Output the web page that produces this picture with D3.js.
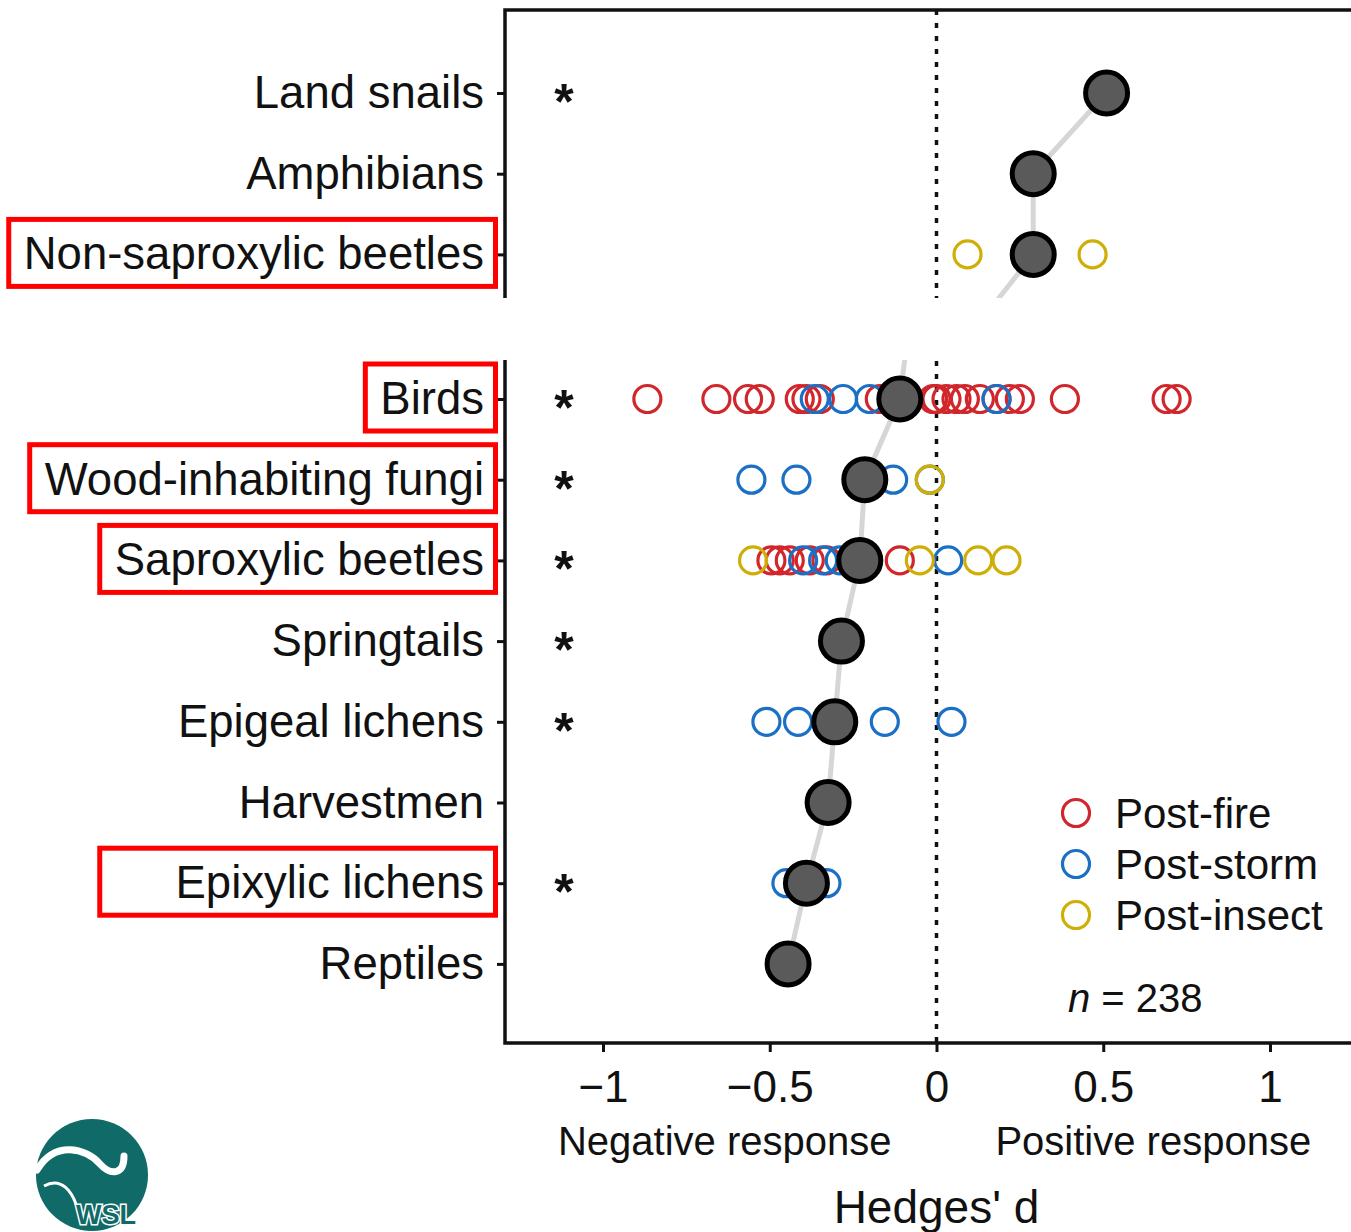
<!DOCTYPE html>
<html>
<head>
<meta charset="utf-8">
<title>Hedges' d by taxon</title>
<script src="https://cdn.jsdelivr.net/npm/d3@7"></script>
<style>
  body { margin: 0; background: #fff; }
  text { font-family: "Liberation Sans", Arial, sans-serif; fill: #111; }
</style>
</head>
<body>
<script>
// taxa, upper and lower part of the (cut) figure
var rowsTop = ["Land snails", "Amphibians", "Non-saproxylic beetles"];
var rowsBottom = ["Birds", "Wood-inhabiting fungi", "Saproxylic beetles", "Springtails",
                  "Epigeal lichens", "Harvestmen", "Epixylic lichens", "Reptiles"];

// mean effect sizes (Hedges' d)
var meansTop = [0.51, 0.29, 0.29];
var meansBottom = [-0.11, -0.215, -0.23, -0.285, -0.305, -0.325, -0.39, -0.445];
// means of the rows that were cut out (only the joining line shows)
var cutMeanTop = 0.1;
var cutMeanBottom = -0.08;

var significant = ["Land snails", "Birds", "Wood-inhabiting fungi", "Saproxylic beetles",
                   "Springtails", "Epigeal lichens", "Epixylic lichens"];
var highlighted = ["Non-saproxylic beetles", "Birds", "Wood-inhabiting fungi",
                   "Saproxylic beetles", "Epixylic lichens"];

// single studies
var postFire = [
  ["Birds", -0.867], ["Birds", -0.66], ["Birds", -0.565], ["Birds", -0.53], ["Birds", -0.41],
  ["Birds", -0.39], ["Birds", -0.35], ["Birds", -0.17], ["Birds", -0.01], ["Birds", 0.0],
  ["Birds", 0.03], ["Birds", 0.06], ["Birds", 0.085], ["Birds", 0.13], ["Birds", 0.18],
  ["Birds", 0.22], ["Birds", 0.25], ["Birds", 0.385], ["Birds", 0.69], ["Birds", 0.72],
  ["Saproxylic beetles", -0.495], ["Saproxylic beetles", -0.47], ["Saproxylic beetles", -0.44],
  ["Saproxylic beetles", -0.38], ["Saproxylic beetles", -0.33], ["Saproxylic beetles", -0.11]
];
var postStorm = [
  ["Birds", -0.365], ["Birds", -0.28], ["Birds", -0.2], ["Birds", 0.18],
  ["Wood-inhabiting fungi", -0.555], ["Wood-inhabiting fungi", -0.42],
  ["Wood-inhabiting fungi", -0.13], ["Wood-inhabiting fungi", -0.02],
  ["Saproxylic beetles", -0.4], ["Saproxylic beetles", -0.34], ["Saproxylic beetles", -0.29],
  ["Saproxylic beetles", 0.035],
  ["Epigeal lichens", -0.51], ["Epigeal lichens", -0.415], ["Epigeal lichens", -0.155],
  ["Epigeal lichens", 0.045],
  ["Epixylic lichens", -0.45], ["Epixylic lichens", -0.33]
];
var postInsect = [
  ["Non-saproxylic beetles", 0.093], ["Non-saproxylic beetles", 0.468],
  ["Wood-inhabiting fungi", -0.02],
  ["Saproxylic beetles", -0.55], ["Saproxylic beetles", -0.05], ["Saproxylic beetles", 0.125],
  ["Saproxylic beetles", 0.21]
];

var legendNames = ["Post-fire", "Post-storm", "Post-insect"];
var colors = ["#d1262b", "#1b6fc4", "#cfae05"];
var xTicks = [-1, -0.5, 0, 0.5, 1];
var nStudies = 238;

var W = 1351, H = 1232;
var left = 505, topY = 10, bottomY = 1043, cutY0 = 298, cutY1 = 360;

var svg = d3.select("body").append("svg").attr("width", W).attr("height", H);

var x = d3.scaleLinear().domain([-1, 1]).range([603, 1270]);
var step = 80.7;
var yTop = d3.scalePoint().domain(rowsTop.concat(["_cut"])).range([93, 93 + 3 * step]);
var yBot = d3.scalePoint().domain(["_cut"].concat(rowsBottom)).range([399 - step, 399 + 7 * step]);
function y(c) { return rowsTop.indexOf(c) >= 0 ? yTop(c) : yBot(c); }

// zero line
svg.append("line")
  .attr("x1", x(0)).attr("x2", x(0)).attr("y1", topY).attr("y2", bottomY)
  .attr("stroke", "#111").attr("stroke-width", 3.5).attr("stroke-dasharray", "5,8");

// grey line joining the means
var line = d3.line().x(function(d) { return x(d[1]); }).y(function(d) { return d[0]; });
var topPts = rowsTop.map(function(c, i) { return [yTop(c), meansTop[i]]; });
topPts.push([yTop("_cut"), cutMeanTop]);
var botPts = [[yBot("_cut"), cutMeanBottom]].concat(rowsBottom.map(function(c, i) { return [yBot(c), meansBottom[i]]; }));
[topPts, botPts].forEach(function(p) {
  svg.append("path").attr("d", line(p)).attr("fill", "none")
    .attr("stroke", "#d6d6d6").attr("stroke-width", 5);
});

// single studies
[postFire, postStorm, postInsect].forEach(function(set, k) {
  svg.append("g").selectAll("circle").data(set).enter().append("circle")
    .attr("cx", function(d) { return x(d[1]); })
    .attr("cy", function(d) { return y(d[0]); })
    .attr("r", 13.5)
    .attr("fill", "none")
    .attr("stroke", colors[k])
    .attr("stroke-width", 3.2);
});

// means
var means = rowsTop.map(function(c, i) { return [c, meansTop[i]]; })
  .concat(rowsBottom.map(function(c, i) { return [c, meansBottom[i]]; }));
svg.append("g").selectAll("circle").data(means).enter().append("circle")
  .attr("cx", function(d) { return x(d[1]); })
  .attr("cy", function(d) { return y(d[0]); })
  .attr("r", 21)
  .attr("fill", "#5a5a5a")
  .attr("stroke", "#000")
  .attr("stroke-width", 5);

// the break between the two parts
svg.append("rect").attr("x", 0).attr("y", cutY0).attr("width", W).attr("height", cutY1 - cutY0)
  .attr("fill", "#fff");

// frame
var frame = svg.append("g").attr("stroke", "#111").attr("stroke-width", 3.5).attr("fill", "none");
frame.append("path").attr("d", "M" + W + "," + topY + "H" + left + "V" + cutY0);
frame.append("path").attr("d", "M" + left + "," + cutY1 + "V" + bottomY + "H" + W);

// y axes
function styleY(g) {
  g.select(".domain").remove();
  g.selectAll(".tick line").attr("stroke", "#111").attr("stroke-width", 3);
  g.selectAll(".tick text").attr("font-size", 45.5).attr("fill", "#111")
    .attr("font-family", "Liberation Sans, Arial, sans-serif");
}
svg.append("g").attr("transform", "translate(" + left + ",0)")
  .call(d3.axisLeft(yTop).tickValues(rowsTop).tickSize(8).tickPadding(13)).call(styleY);
svg.append("g").attr("transform", "translate(" + left + ",0)")
  .call(d3.axisLeft(yBot).tickValues(rowsBottom).tickSize(8).tickPadding(13)).call(styleY);

// x axis
var xa = svg.append("g").attr("transform", "translate(0," + bottomY + ")")
  .call(d3.axisBottom(x).tickValues(xTicks).tickSize(9).tickPadding(19).tickFormat(d3.format("~g")));
xa.select(".domain").remove();
xa.selectAll(".tick line").attr("stroke", "#111").attr("stroke-width", 3);
xa.selectAll(".tick text").attr("font-size", 44).attr("fill", "#111")
  .attr("font-family", "Liberation Sans, Arial, sans-serif");

svg.append("text").attr("x", x(-0.635)).attr("y", 1155).attr("text-anchor", "middle")
  .attr("font-size", 40).text("Negative response");
svg.append("text").attr("x", x(0.65)).attr("y", 1155).attr("text-anchor", "middle")
  .attr("font-size", 40).text("Positive response");
svg.append("text").attr("x", x(0)).attr("y", 1223).attr("text-anchor", "middle")
  .attr("font-size", 46).text("Hedges' d");

// significance stars
svg.append("g").selectAll("text").data(significant).enter().append("text")
  .attr("x", 564).attr("y", function(d) { return y(d) + 26; })
  .attr("text-anchor", "middle").attr("font-size", 50).attr("font-weight", "bold")
  .text("*");

// red highlight boxes round some labels
var boxLeft = {};
svg.selectAll(".tick text").each(function(d) {
  if (highlighted.indexOf(d) >= 0) boxLeft[d] = this.getBBox().x + left - 15;
});
boxLeft["Epixylic lichens"] = boxLeft["Saproxylic beetles"];
svg.append("g").selectAll("rect").data(highlighted).enter().append("rect")
  .attr("x", function(d) { return boxLeft[d]; })
  .attr("y", function(d) { return y(d) - 35; })
  .attr("width", function(d) { return 495.5 - boxLeft[d]; })
  .attr("height", 67)
  .attr("fill", "none").attr("stroke", "#ff0000").attr("stroke-width", 5);

// legend
var lg = svg.append("g");
legendNames.forEach(function(name, i) {
  lg.append("circle").attr("cx", 1076).attr("cy", 813 + i * 51).attr("r", 13.5)
    .attr("fill", "none").attr("stroke", colors[i]).attr("stroke-width", 3.2);
  lg.append("text").attr("x", 1115).attr("y", 813 + i * 51 + 15).attr("font-size", 42).text(name);
});
var nt = svg.append("text").attr("x", 1068).attr("y", 1012).attr("font-size", 40);
nt.append("tspan").attr("font-style", "italic").text("n");
nt.append("tspan").text(" = " + nStudies);

// WSL logo
var logo = svg.append("g");
logo.append("circle").attr("cx", 92).attr("cy", 1175).attr("r", 56).attr("fill", "#0f6a68");
logo.append("path")
  .attr("d", "M37,1170 C55,1140 86,1148 100,1164 C110,1175 124,1176 124,1156")
  .attr("fill", "none").attr("stroke", "#fff").attr("stroke-width", 7).attr("stroke-linecap", "round");
logo.append("path")
  .attr("d", "M44,1186 C62,1176 72,1193 76,1204")
  .attr("fill", "none").attr("stroke", "#fff").attr("stroke-width", 3);
logo.append("text").attr("x", 106).attr("y", 1224).attr("text-anchor", "middle")
  .attr("font-size", 27).attr("font-weight", "bold")
  .attr("stroke", "#fff").attr("stroke-width", 3).attr("paint-order", "stroke")
  .style("fill", "#0f6a68").text("WSL");
</script>
</body>
</html>
